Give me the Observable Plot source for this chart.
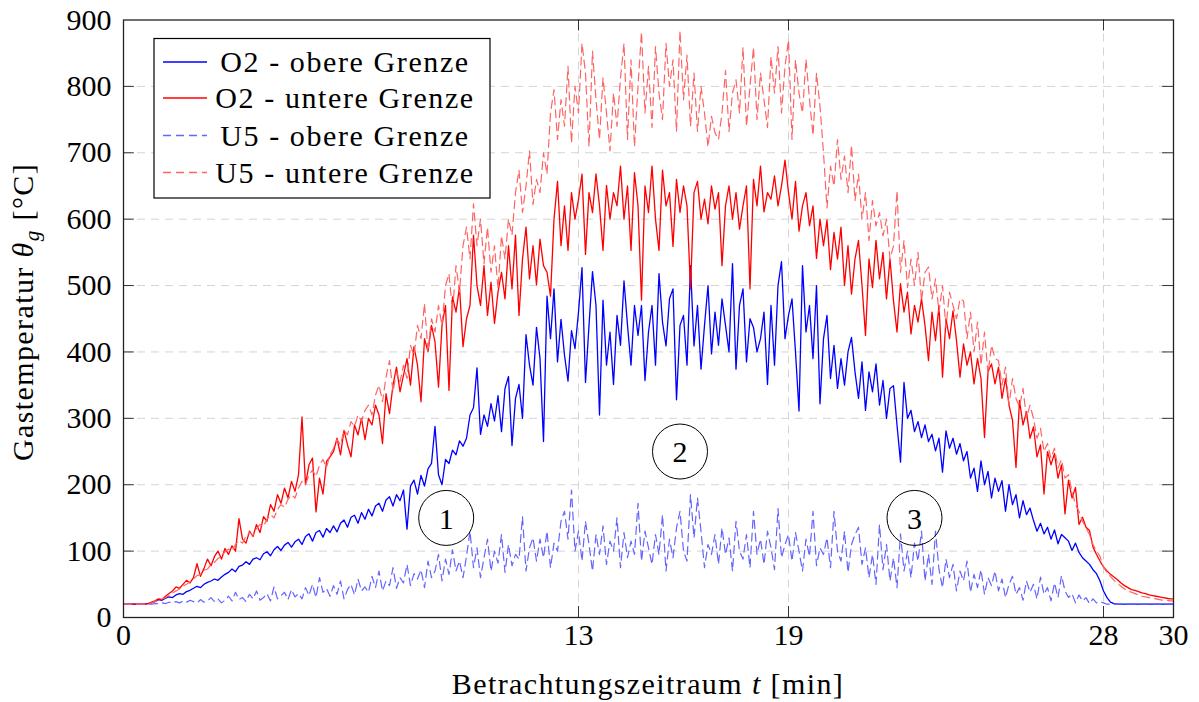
<!DOCTYPE html>
<html>
<head>
<meta charset="utf-8">
<script src="https://cdn.jsdelivr.net/npm/d3@7"></script>
<script src="https://cdn.jsdelivr.net/npm/@observablehq/plot@0.6"></script>
<style>
  html, body { margin: 0; padding: 0; background: #fff; }
  #chart svg { display: block; }
  #chart svg, #chart svg text { font-family: "Liberation Serif", "DejaVu Serif", serif; }
</style>
</head>
<body>
<div id="chart"></div>
<script>
// Gas temperature over the observation period, sampled every 0.1 min (0 … 30 min)
const stepMin = 0.1;

// O2 – obere Grenze (°C)
const o2Obere = [
  20,20,20,20,20,20,20,21,22,24,
  27,26,29,31,30,34,36,35,39,41,
  44,47,45,50,53,55,58,56,61,65,
  68,73,69,77,79,84,80,88,90,87,
  96,99,93,102,107,101,109,113,106,114,
  118,110,122,126,115,128,131,121,134,128,
  138,129,142,147,136,151,154,142,158,148,
  163,153,168,172,160,177,182,168,185,176,
  192,133,198,207,186,214,198,224,232,288,
  215,200,238,232,252,245,266,258,270,305,
  316,376,276,305,288,322,296,334,280,345,
  363,259,330,351,300,426,380,350,437,390,
  265,484,420,495,385,449,395,356,432,405,
  460,527,354,440,521,470,305,478,380,430,
  351,455,410,507,440,380,470,425,470,357,
  430,470,380,518,445,409,480,495,328,440,
  455,380,530,409,470,374,440,500,397,460,
  410,480,440,400,533,374,470,495,385,450,
  437,400,420,460,351,470,380,500,536,420,
  455,480,400,311,530,430,470,390,500,322,
  420,455,360,410,345,390,350,400,422,370,
  330,385,312,370,340,382,320,357,300,345,
  349,290,234,354,300,312,280,295,271,290,
  265,276,251,270,219,281,255,270,246,262,
  236,250,210,225,190,236,200,220,180,210,
  190,206,160,200,170,185,150,176,155,165,
  146,130,142,126,136,118,132,111,125,120,
  115,101,112,98,90,85,80,72,66,55,
  40,30,23,21,20,20,20,20,20,20,
  20,20,20,20,20,20,20,20,20,20,
  20
];

// O2 – untere Grenze (°C)
const o2Untere = [
  20,20,20,20,20,20,20,21,23,25,
  28,27,32,36,40,46,44,50,56,52,
  60,81,62,74,88,78,92,100,88,104,
  95,108,100,149,118,112,130,122,140,128,
  152,145,170,160,185,172,195,180,205,190,
  215,302,200,230,240,159,210,186,235,242,
  250,270,245,282,260,242,290,275,300,268,
  300,290,320,305,262,337,307,350,377,340,
  365,390,350,408,380,325,420,400,440,415,
  347,440,470,342,483,460,498,408,450,470,
  576,500,470,530,455,505,443,490,520,480,
  560,495,576,455,540,588,510,560,501,570,
  530,520,484,600,657,560,620,553,640,600,
  630,668,547,640,610,668,620,553,651,600,
  640,620,680,600,650,553,670,620,478,650,
  610,680,600,553,674,620,640,559,660,610,
  650,620,495,640,657,600,630,593,650,615,
  640,530,620,650,600,640,585,620,650,495,
  660,620,680,611,640,630,665,620,650,689,
  640,600,657,582,620,640,590,620,541,600,
  560,599,524,580,540,588,500,560,487,540,
  568,500,425,540,497,568,510,550,480,540,
  477,430,503,460,490,427,470,445,480,440,
  387,460,417,470,362,450,420,462,417,362,
  412,380,400,352,390,360,271,370,382,352,
  377,330,360,320,297,226,327,290,310,270,
  287,242,260,186,250,230,247,210,230,156,
  207,180,196,140,151,136,131,106,95,85,
  76,70,65,61,57,52,48,45,42,41,
  39,37,36,34,33,32,31,30,29,28,
  28
];

// U5 – obere Grenze (°C)
const u5Obere = [
  20,20,20,20,20,20,20,20,20,21,
  21,22,21,23,22,24,22,25,23,26,
  24,22,27,23,25,30,24,28,22,26,
  32,25,38,27,30,24,35,28,40,26,
  30,36,25,46,28,33,38,27,42,31,
  36,28,45,33,50,30,60,38,44,32,
  48,35,55,28,42,50,34,58,40,46,
  38,62,45,70,40,55,48,75,44,60,
  52,80,48,66,58,72,45,85,60,70,
  95,55,88,65,102,70,85,60,92,130,
  75,105,60,90,118,70,100,82,125,68,
  110,78,95,88,152,70,105,120,85,118,
  90,130,75,112,100,145,160,118,192,100,
  130,85,145,110,70,125,95,138,80,115,
  100,150,75,128,90,115,95,172,85,130,
  105,80,125,95,155,70,118,90,135,160,
  100,85,185,120,180,130,75,110,95,125,
  80,135,95,120,70,145,100,88,125,75,
  160,95,118,80,130,105,72,164,90,110,
  125,85,128,100,70,118,92,160,78,105,
  95,120,75,160,100,85,130,68,110,125,
  136,80,105,60,95,50,140,72,110,55,
  90,45,126,70,100,60,112,85,130,55,
  95,50,130,72,45,88,60,80,40,70,
  55,85,38,65,45,72,35,60,48,70,
  40,58,30,50,62,35,45,26,55,38,
  50,28,61,35,45,25,52,30,63,40,
  30,36,22,34,25,30,21,28,22,24,
  22,20,20,20,20,20,20,20,20,20,
  20,20,20,20,20,20,20,20,20,20,
  20
];

// U5 – untere Grenze (°C)
const u5Untere = [
  20,20,20,20,20,20,20,21,22,24,
  26,28,30,33,37,40,43,47,50,54,
  58,63,65,71,73,80,83,89,92,99,
  103,100,110,116,112,122,128,124,134,140,
  137,148,155,150,163,170,166,178,185,180,
  195,205,200,215,222,212,230,238,226,245,
  255,268,260,282,275,295,288,305,296,312,
  320,305,335,350,325,362,387,340,370,355,
  380,360,410,395,440,420,473,400,450,430,
  470,440,500,518,460,530,490,560,588,540,
  623,560,600,533,588,520,560,495,575,540,
  600,576,640,674,610,650,703,622,660,640,
  700,668,760,795,720,780,740,830,715,800,
  760,865,820,709,853,780,720,813,760,703,
  790,740,813,865,720,840,709,800,882,760,
  830,738,860,790,750,865,800,840,732,884,
  780,847,740,820,732,800,760,709,755,730,
  720,760,824,732,790,810,760,859,740,800,
  859,750,820,780,738,845,790,860,760,830,
  870,720,840,790,760,841,780,726,820,770,
  700,617,680,650,720,660,695,640,711,628,
  668,600,640,568,628,590,610,575,600,540,
  560,643,520,568,497,540,500,550,477,520,
  528,480,510,460,500,437,490,470,450,480,
  477,420,460,400,445,380,430,367,410,390,
  387,350,377,320,360,330,317,345,300,320,
  300,270,285,250,262,240,255,225,238,210,
  215,190,170,160,145,135,125,110,100,92,
  76,68,62,56,51,47,43,40,38,36,
  34,32,31,30,29,28,27,26,26,25,
  25
];

const seriesNames  = ["O2 - obere Grenze", "O2 - untere Grenze", "U5 - obere Grenze", "U5 - untere Grenze"];
const seriesValues = [o2Obere, o2Untere, u5Obere, u5Untere];
const seriesColors = ["#0000ff", "#ff0000", "#6464ff", "#ff6464"];
const seriesDashed = [false, false, true, true];

const xTicks = [0, 13, 19, 28, 30];
const yTicks = [0, 100, 200, 300, 400, 500, 600, 700, 800, 900];

// numbered phase markers
const phaseLabels = ["1", "2", "3"];
const phaseT      = [9.22, 15.9, 22.6];
const phaseValue  = [150, 250, 150];

const xLabel = "Betrachtungszeitraum";
const yLabel = "Gastemperatur";

// ---------------------------------------------------------------------------
const W = 1199, H = 702;
const serif = "Liberation Serif, DejaVu Serif, serif";
const fontPx = 30;

const tables = seriesValues.map(vals => vals.map((v, i) => ({t: +(i * stepMin).toFixed(2), v})));
const phases = phaseLabels.map((s, i) => ({s, t: phaseT[i], v: phaseValue[i]}));

const innerX = xTicks.filter(d => d > 0 && d < 30);
const innerY = yTicks.filter(d => d > 0 && d < 900);
const tickLenT = 0.31;  // tick length along x, in minutes
const tickLenV = 16.5;  // tick length along y, in °C

const lineMarks = tables.map((data, k) => Plot.line(data, {
  x: "t", y: "v",
  stroke: seriesColors[k],
  strokeWidth: seriesDashed[k] ? 1.2 : 1.3,
  strokeDasharray: seriesDashed[k] ? "8,5" : null,
  strokeLinejoin: "round"
}));

const chart = Plot.plot({
  width: W, height: H,
  marginLeft: 123, marginRight: 26, marginTop: 19.5, marginBottom: 85,
  style: {fontFamily: serif, fontSize: fontPx + "px", color: "#000", background: "#fff"},
  x: {domain: [0, 30], axis: null},
  y: {domain: [0, 900], axis: null},
  marks: [
    Plot.ruleY(innerY, {stroke: "#d4d4d4", strokeWidth: 1, strokeDasharray: "8,6"}),
    Plot.ruleX(innerX, {stroke: "#d4d4d4", strokeWidth: 1, strokeDasharray: "8,6"}),
    ...lineMarks,
    // inward tick marks on all four sides
    Plot.ruleY(innerY, {x1: 0, x2: tickLenT, stroke: "#333", strokeWidth: 1}),
    Plot.ruleY(innerY, {x1: 30 - tickLenT, x2: 30, stroke: "#333", strokeWidth: 1}),
    Plot.ruleX(innerX, {y1: 0, y2: tickLenV, stroke: "#333", strokeWidth: 1}),
    Plot.ruleX(innerX, {y1: 900 - tickLenV, y2: 900, stroke: "#333", strokeWidth: 1}),
    Plot.frame({stroke: "#222", strokeWidth: 1.3}),
    Plot.axisX(xTicks, {tickSize: 0, tickPadding: 6, fontSize: fontPx, fontFamily: serif, fill: "#000", label: null}),
    Plot.axisY(yTicks, {tickSize: 0, tickPadding: 12, fontSize: fontPx, fontFamily: serif, fill: "#000", label: null}),
    Plot.dot(phases, {x: "t", y: "v", r: 27.5, stroke: "#000", strokeWidth: 1, fill: "none"}),
    Plot.text(phases, {x: "t", y: "v", text: "s", fontSize: fontPx, fontFamily: serif, fill: "#000", dy: 1})
  ]
});

document.getElementById("chart").appendChild(chart);

// axis titles and legend
const svg = d3.select(chart);

const xt = svg.append("text")
  .attr("x", 648).attr("y", 694)
  .attr("text-anchor", "middle")
  .style("font-family", serif).attr("font-size", fontPx)
  .attr("letter-spacing", "1.4px")
  .attr("fill", "#000");
xt.append("tspan").text(xLabel + " ");
xt.append("tspan").attr("font-style", "italic").text("t");
xt.append("tspan").text(" [min]");

const yt = svg.append("text")
  .attr("transform", "translate(33,312) rotate(-90)")
  .attr("text-anchor", "middle")
  .style("font-family", serif).attr("font-size", fontPx)
  .attr("letter-spacing", "1.4px")
  .attr("fill", "#000");
yt.append("tspan").text(yLabel + " ");
yt.append("tspan").attr("font-style", "italic").text("θ");
yt.append("tspan").attr("font-style", "italic").attr("font-size", 21).attr("dy", 6).text("g");
yt.append("tspan").attr("dy", -6).text(" [°C]");

const lg = svg.append("g");
lg.append("rect")
  .attr("x", 154).attr("y", 38.5).attr("width", 336).attr("height", 159.5)
  .attr("fill", "#fff").attr("stroke", "#000").attr("stroke-width", 1.2);
const rowY = [62, 98, 135.5, 172.5];
seriesNames.forEach((name, k) => {
  lg.append("line")
    .attr("x1", 163).attr("x2", 207).attr("y1", rowY[k]).attr("y2", rowY[k])
    .attr("stroke", seriesColors[k]).attr("stroke-width", 1.3)
    .attr("stroke-dasharray", seriesDashed[k] ? "8,5" : null);
  lg.append("text")
    .attr("x", 345).attr("y", rowY[k] + 10)
    .attr("text-anchor", "middle")
    .style("font-family", serif).attr("font-size", fontPx)
    .attr("letter-spacing", "1.6px")
    .attr("fill", "#000")
    .text(name);
});
</script>
</body>
</html>
